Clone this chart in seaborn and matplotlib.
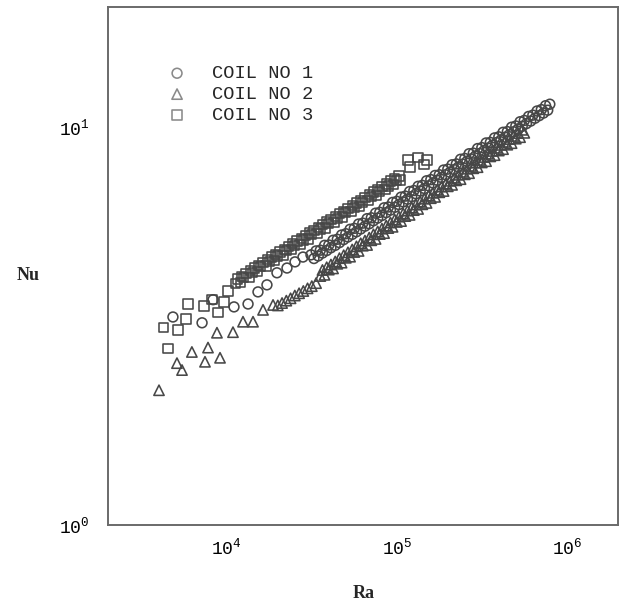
import matplotlib
matplotlib.use("Agg")
import matplotlib.pyplot as plt
import seaborn as sns
from matplotlib.ticker import LogLocator, LogFormatterMathtext, NullFormatter

# ---------------- data ----------------
series_labels = ["COIL NO 1", "COIL NO 2", "COIL NO 3"]

# COIL NO 1 (circles)
ra_coil1 = [4820, 7150, 8300, 11020, 13330, 15250, 17220, 19720, 22590, 25180,
            28050, 31260,
            33500, 35480, 37580, 39810, 42170, 44670, 47320, 50120, 53090, 56230,
            59570, 63100, 66830, 70790, 74990, 79430, 84140, 89130, 94410, 100000,
            105900, 112200, 118900, 125900, 133400, 141300, 149600, 158500, 167900,
            177800, 188400, 199500, 211300, 223900, 237100, 251200, 266100, 281800,
            298500, 316200, 335000, 354800, 375800, 398100, 421700, 446700, 473200,
            501200, 530900, 562300, 595700, 631000, 668300, 707900, 749900, 794300]
nu_coil1 = [3.33, 3.22, 3.68, 3.53, 3.59, 3.85, 4.01, 4.30, 4.42, 4.58,
            4.71, 4.77,
            4.88, 4.90, 5.04, 5.05, 5.19, 5.22, 5.35, 5.39, 5.53, 5.56,
            5.70, 5.73, 5.88, 5.91, 6.07, 6.10, 6.26, 6.29, 6.46, 6.50,
            6.66, 6.70, 6.88, 6.92, 7.09, 7.13, 7.32, 7.37, 7.55,
            7.58, 7.79, 7.83, 8.03, 8.07, 8.29, 8.33, 8.56, 8.59,
            8.82, 8.87, 9.11, 9.14, 9.38, 9.44, 9.69, 9.73, 9.98,
            10.05, 10.30, 10.38, 10.62, 10.70, 10.96, 11.05, 11.30, 11.40]
ra_coil1_lower = [32540, 34480, 36520, 38680, 40970, 43410, 45970, 48700, 51580,
                  54640, 57880, 61310, 64940, 68790, 72870, 77180, 81760, 86600,
                  91730, 97160, 102900, 109000, 115500, 122300, 129600, 137200,
                  145400, 154000, 163100, 172800, 183000, 193900, 205400, 217500,
                  230400, 244100, 258500, 273900, 290100, 307300, 325500, 344700,
                  365200, 386800, 409700, 434000, 459700, 487000, 515800, 546400,
                  578800, 613100, 649400, 687900, 728700, 771900]
nu_coil1_lower = [4.67, 4.74, 4.82, 4.89, 4.97, 5.04, 5.12, 5.21, 5.29, 5.37,
                  5.45, 5.54, 5.63, 5.71, 5.81, 5.90, 5.99, 6.09, 6.18, 6.28,
                  6.38, 6.48, 6.58, 6.68, 6.79, 6.90, 7.00, 7.11, 7.23, 7.34,
                  7.46, 7.58, 7.69, 7.81, 7.93, 8.06, 8.19, 8.31, 8.45, 8.57,
                  8.71, 8.85, 8.99, 9.13, 9.27, 9.42, 9.56, 9.72, 9.87, 10.03,
                  10.19, 10.34, 10.51, 10.67, 10.83, 11.01]

# COIL NO 2 (triangles)
ra_coil2 = [3990, 5090, 5450, 6230, 7440, 7750, 9120, 8750, 10870, 12450,
            14260, 16330, 18700,
            19950, 21130, 22390, 23710, 25120, 26610, 28180, 29850, 31620, 33500,
            35480, 37580, 39810, 42170, 44670, 47320, 50120, 53090, 56230, 59570,
            63100, 66830, 70790, 74990, 79430, 84140, 89130, 94410, 100000, 105900,
            112200, 118900, 125900, 133400, 141300, 149600, 158500, 167900, 177800,
            188400, 199500, 211300, 223900, 237100, 251200, 266100, 281800, 298500,
            316200, 335000, 354800, 375800, 398100, 421700, 446700, 473200, 501200,
            530900, 562300]
nu_coil2 = [2.18, 2.55, 2.45, 2.72, 2.57, 2.79, 2.63, 3.04, 3.05, 3.24,
            3.24, 3.47, 3.57,
            3.56, 3.61, 3.66, 3.71, 3.77, 3.82, 3.87, 3.93, 3.98, 4.05,
            4.22, 4.25, 4.38, 4.41, 4.53, 4.56, 4.69, 4.72, 4.85, 4.88,
            5.03, 5.05, 5.19, 5.23, 5.38, 5.41, 5.57, 5.61, 5.77, 5.80,
            5.97, 6.01, 6.18, 6.22, 6.39, 6.44, 6.62, 6.67, 6.85,
            6.90, 7.09, 7.15, 7.34, 7.39, 7.60, 7.65, 7.87, 7.92,
            8.14, 8.20, 8.43, 8.49, 8.72, 8.79, 9.02, 9.10, 9.34,
            9.42, 9.66]
ra_coil2_upper = [36520, 38680, 40970, 43410, 45970, 48700, 51580, 54640, 57880,
                  61310, 64940, 68790, 72870, 77180, 81760, 86600, 91730, 97160,
                  102900, 109000, 115500, 122300, 129600, 137200, 145400, 154000,
                  163100, 172800, 183000, 193900, 205400, 217500, 230400, 244100,
                  258500, 273900, 290100, 307300, 325500, 344700, 365200, 386800,
                  409700, 434000, 459700, 487000, 515800, 546400]
nu_coil2_upper = [4.37, 4.44, 4.51, 4.59, 4.68, 4.76, 4.84, 4.92, 5.01, 5.10,
                  5.18, 5.27, 5.37, 5.46, 5.55, 5.65, 5.75, 5.85, 5.95, 6.06,
                  6.16, 6.27, 6.38, 6.49, 6.60, 6.72, 6.83, 6.95, 7.08, 7.20,
                  7.32, 7.45, 7.58, 7.71, 7.85, 7.98, 8.13, 8.26, 8.40, 8.56,
                  8.70, 8.86, 9.01, 9.17, 9.32, 9.49, 9.65, 9.83]

# COIL NO 3 (squares)
ra_coil3 = [4220, 4510, 5160, 5910, 5750, 7350, 8180, 8870, 9620, 10160,
            11220, 12020, 12590, 13490, 14130, 15140, 15850, 16980, 17780, 19050,
            19950, 21380, 22390, 23990, 25120, 26920, 28180, 30200, 31620, 33880,
            35480, 38020, 39810, 42660, 44670, 47860, 50120, 53700, 56230, 60260,
            63100, 67610, 70790, 75860, 79430, 85110, 89130, 95500, 100000, 104700,
            116400, 133400, 150300, 119500, 144500]
nu_coil3 = [3.14, 2.77, 3.09, 3.59, 3.29, 3.55, 3.68, 3.41, 3.63, 3.87,
            4.05, 4.06, 4.18, 4.19, 4.31, 4.33, 4.45, 4.47, 4.59, 4.61,
            4.74, 4.76, 4.89, 4.91, 5.04, 5.07, 5.20, 5.23, 5.36, 5.40,
            5.54, 5.57, 5.71, 5.75, 5.89, 5.94, 6.08, 6.12, 6.28, 6.32,
            6.47, 6.53, 6.68, 6.73, 6.89, 6.95, 7.10, 7.17, 7.33, 7.35,
            8.26, 8.36, 8.26, 7.93, 8.03]
ra_coil3_upper = [11550, 12230, 12960, 13730, 14540, 15400, 16310, 17280, 18300,
                  19390, 20540, 21750, 23040, 24410, 25850, 27390, 29010, 30730,
                  32540, 34480, 36520, 38680, 40970, 43410, 45970, 48700, 51580,
                  54640, 57880, 61310, 64940, 68790, 72870, 77180, 81760, 86600,
                  91730, 97160, 102900]
nu_coil3_upper = [4.15, 4.21, 4.28, 4.35, 4.42, 4.49, 4.56, 4.64, 4.71, 4.78,
                  4.85, 4.93, 5.01, 5.09, 5.17, 5.25, 5.33, 5.41, 5.50, 5.59,
                  5.68, 5.77, 5.86, 5.96, 6.05, 6.14, 6.24, 6.34, 6.44, 6.54,
                  6.64, 6.75, 6.86, 6.97, 7.07, 7.19, 7.31, 7.42, 7.53]

x_ticks = [1e4, 1e5, 1e6]
y_ticks = [1, 10]

# ---------------- styling ----------------
sns.set_theme(style="white")
plt.rcParams["font.family"] = ["Liberation Mono", "DejaVu Sans"]
plt.rcParams["mathtext.fontset"] = "custom"
plt.rcParams["mathtext.rm"] = "Liberation Mono"
plt.rcParams["mathtext.it"] = "Liberation Mono"

W, H = 621, 604
fig = plt.figure(figsize=(W / 100, H / 100), dpi=100)
ax = fig.add_axes([108 / W, 1 - 525 / H, 510 / W, 518 / H])

edge = "#474747"
lw = 1.15
sns.scatterplot(x=ra_coil1 + ra_coil1_lower, y=nu_coil1 + nu_coil1_lower,
                marker="o", s=50, facecolor="none", edgecolor=edge,
                linewidth=lw, ax=ax, label=series_labels[0])
sns.scatterplot(x=ra_coil2 + ra_coil2_upper, y=nu_coil2 + nu_coil2_upper,
                marker="^", s=55, facecolor="none", edgecolor=edge,
                linewidth=lw, ax=ax, label=series_labels[1])
sns.scatterplot(x=ra_coil3 + ra_coil3_upper, y=nu_coil3 + nu_coil3_upper,
                marker="s", s=44, facecolor="none", edgecolor=edge,
                linewidth=lw, ax=ax, label=series_labels[2])

ax.set_xscale("log")
ax.set_yscale("log")
ax.set_xlim(2000, 2e6)
ax.set_ylim(1, 20)

ax.set_xticks(x_ticks)
ax.set_yticks(y_ticks)
ax.xaxis.set_minor_locator(LogLocator(base=10, subs=range(2, 10), numticks=20))
ax.yaxis.set_minor_locator(LogLocator(base=10, subs=range(2, 10), numticks=20))
ax.xaxis.set_major_formatter(LogFormatterMathtext())
ax.yaxis.set_major_formatter(LogFormatterMathtext())
ax.xaxis.set_minor_formatter(NullFormatter())
ax.yaxis.set_minor_formatter(NullFormatter())

ax.tick_params(which="both", direction="in", top=False, right=False,
               color="#606060", labelcolor="black", labelsize=13)
ax.tick_params(which="major", length=8, width=1.3)
ax.tick_params(which="minor", length=3.5, width=1.0)
ax.tick_params(axis="x", which="major", pad=9)
ax.tick_params(axis="y", which="major", pad=13)

for sp in ax.spines.values():
    sp.set_color("#6a6a6a")
    sp.set_linewidth(1.4)
    sp.set_visible(True)

ax.set_xlabel("Ra", fontfamily="Liberation Serif", fontweight="bold", fontsize=13)
ax.set_ylabel("Nu", fontfamily="Liberation Serif", fontweight="bold", fontsize=13,
              rotation=0)
ax.xaxis.label.set_va("center")
ax.yaxis.label.set_va("center")
ax.yaxis.label.set_ha("center")
ax.xaxis.set_label_coords((364 - 108) / 510, (525 - 593) / 518)
ax.yaxis.set_label_coords((28 - 108) / 510, (525 - 276) / 518)

leg = ax.legend(loc="upper left", bbox_to_anchor=(0.117, 0.888), frameon=False,
                fontsize=13.5, handlelength=1.0, handletextpad=1.37,
                labelspacing=0.2, borderpad=0, borderaxespad=0)
for h in leg.legend_handles:
    h.set_edgecolor("#8a8a8a")
    h.set_facecolor("none")

fig.savefig("out.png", dpi=100)
